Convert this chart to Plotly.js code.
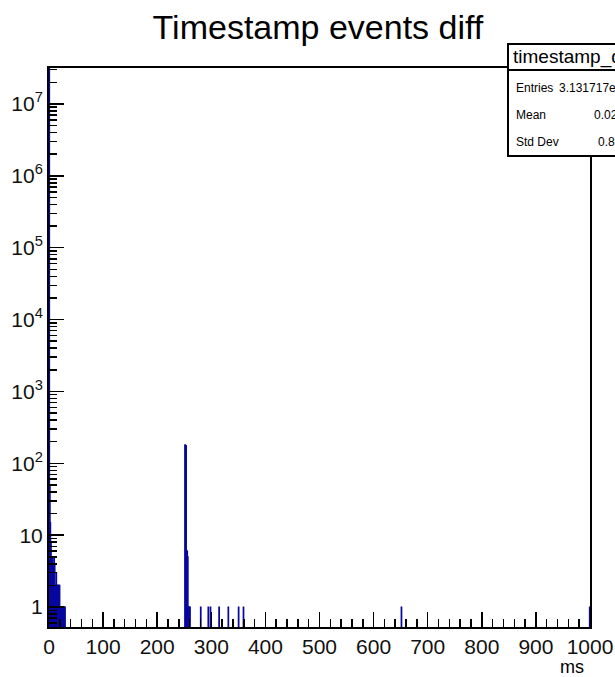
<!DOCTYPE html>
<html>
<head>
<meta charset="utf-8">
<script src="https://cdn.plot.ly/plotly-3.0.1.min.js"></script>
<style>html,body{margin:0;padding:0;background:#fff;}#chart{width:615px;height:677px;}</style>
</head>
<body>
<div id="chart"></div>
<script>
// Histogram bins (1 ms wide): lower edge and counts
const binStart = [0,1,2,3,4,5,6,7,8,9,10,11,12,13,14,15,16,17,18,19,20,21,22,23,24,25,26,27,28,29,
  251,252,253,254,255,256,257,258,259,260,280,294,298,314,331,350,359,651,999];
const binCount = [31000000,50,15,8,5,4,5,4,4,5,4,2,2,3,2,2,2,2,2,2,1,1,1,1,1,1,1,1,1,1,
  180,178,175,6,6,5,1,1,1,1,1,1,1,1,1,1,1,1,1];

const yTickVals = [1,10,100,1000,10000,100000,1000000,10000000];
const yTickText = ['1','10','10<sup>2</sup>','10<sup>3</sup>','10<sup>4</sup>','10<sup>5</sup>','10<sup>6</sup>','10<sup>7</sup>'];

const statName = 'timestamp_diff';
const statLabels = ['Entries','Mean','Std Dev'];
const statValues = ['3.131717e+07','0.0281','0.8012'];

const binCenter = binStart.map(v => v + 0.5);
const blue = '#0808a0';

const trace = {
  type: 'bar',
  x: binCenter,
  y: binCount,
  width: 1,
  marker: {color: blue, line: {color: blue, width: 1.2}},
  hoverinfo: 'x+y'
};

const font = 'Liberation Sans, Arial, Helvetica, sans-serif';

// plot area in pixels: x 49..590, y 68..627
const L = 49, R = 590, T = 68, B = 627;
const px = v => (v - L) / (R - L);
const py = v => (B - v) / (B - T);

const shapes = [
  {type:'rect', xref:'paper', yref:'paper', x0:px(508), x1:px(640), y0:py(156), y1:py(44),
   fillcolor:'#fff', line:{color:'#000', width:2}, layer:'above'},
  {type:'line', xref:'paper', yref:'paper', x0:px(508), x1:px(640), y0:py(70), y1:py(70),
   line:{color:'#000', width:2}, layer:'above'}
];

const annotations = [
  {xref:'paper', yref:'paper', x:px(511), y:py(57), xanchor:'left', yanchor:'middle',
   text:statName, showarrow:false, font:{family:font, size:19, color:'#000'}},
  {xref:'paper', yref:'paper', x:px(586), y:py(667), xanchor:'right', yanchor:'middle',
   text:'ms', showarrow:false, font:{family:font, size:18, color:'#000'}}
];
const rowY = [88, 115, 142];
const valX = [557, 592, 596];
statLabels.forEach((lab, i) => {
  annotations.push({xref:'paper', yref:'paper', x:px(514), y:py(rowY[i]), xanchor:'left', yanchor:'middle',
    text:lab, showarrow:false, font:{family:font, size:12, color:'#000'}});
  annotations.push({xref:'paper', yref:'paper', x:px(valX[i]), y:py(rowY[i]), xanchor:'left', yanchor:'middle',
    text:statValues[i], showarrow:false, font:{family:font, size:12, color:'#000'}});
});

const layout = {
  width: 615, height: 677,
  margin: {l: L, r: 615 - R, t: T, b: 677 - B, pad: 0},
  paper_bgcolor: '#fff', plot_bgcolor: '#fff',
  showlegend: false,
  bargap: 0,
  title: {text: 'Timestamp events diff', xref:'container', yref:'container', x: 0.517, y: 1 - 27/677,
          xanchor:'center', yanchor:'middle', font: {family: font, size: 34, color: '#000'}},
  xaxis: {
    range: [0, 1000], tick0: 0, dtick: 100, ticks: 'inside', ticklen: 15, tickwidth: 1.5, tickcolor: '#000',
    minor: {dtick: 20, ticks: 'inside', ticklen: 8, tickwidth: 1.5, tickcolor: '#000'},
    showline: true, linecolor: '#000', linewidth: 2, mirror: true, showgrid: false, zeroline: false,
    tickfont: {family: font, size: 21, color: '#111'}
  },
  yaxis: {
    type: 'log', range: [-0.278, 7.5], tickvals: yTickVals, ticktext: yTickText,
    ticks: 'inside', ticklen: 15, tickwidth: 1.5, tickcolor: '#000',
    minor: {dtick: 'D1', ticks: 'inside', ticklen: 8, tickwidth: 1.5, tickcolor: '#000'},
    showline: true, linecolor: '#000', linewidth: 2, mirror: true, showgrid: false, zeroline: false,
    tickfont: {family: font, size: 21, color: '#111'}
  },
  shapes: shapes,
  annotations: annotations
};

Plotly.newPlot('chart', [trace], layout, {displayModeBar: false, staticPlot: true});
</script>
</body>
</html>
